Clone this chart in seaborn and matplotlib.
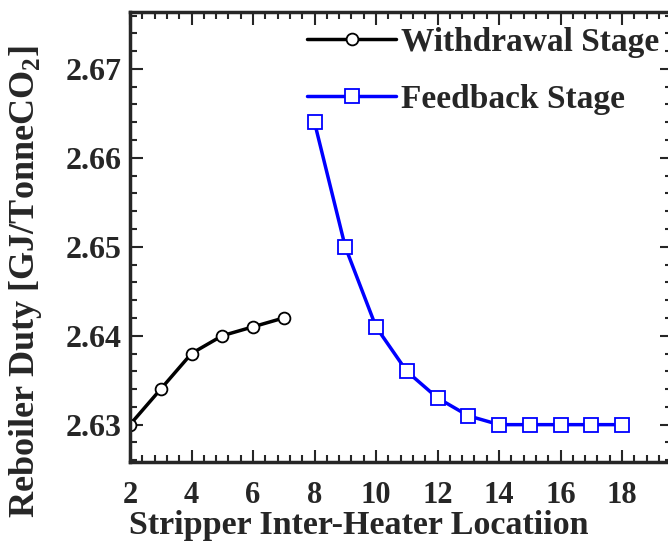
import matplotlib
matplotlib.use("Agg")
import matplotlib.pyplot as plt
import seaborn as sns
import pandas as pd
from matplotlib.ticker import MultipleLocator

withdrawal_x = [2, 3, 4, 5, 6, 7]
withdrawal_y = [2.630, 2.634, 2.638, 2.640, 2.641, 2.642]
feedback_x = [8, 9, 10, 11, 12, 13, 14, 15, 16, 17, 18]
feedback_y = [2.664, 2.650, 2.641, 2.636, 2.633, 2.631, 2.630, 2.630, 2.630, 2.630, 2.630]

sns.set_style("ticks")
plt.rcParams['font.family'] = ['Liberation Serif', 'DejaVu Serif']
plt.rcParams['font.weight'] = 'bold'
plt.rcParams['mathtext.fontset'] = 'custom'
plt.rcParams['mathtext.rm'] = 'Liberation Serif:bold'
plt.rcParams['mathtext.bf'] = 'Liberation Serif:bold'

df_w = pd.DataFrame({"x": withdrawal_x, "y": withdrawal_y})
df_f = pd.DataFrame({"x": feedback_x, "y": feedback_y})

fig = plt.figure(figsize=(6.68, 5.48), dpi=100)
ax = fig.add_axes([130/668, 1 - 462/548, 542/668, 450/548])

sns.lineplot(data=df_w, x="x", y="y", ax=ax, color="black", linewidth=2.5,
             marker="o", markersize=8.5, markerfacecolor="white",
             markeredgecolor="black", markeredgewidth=1.3, label="Withdrawal Stage")
sns.lineplot(data=df_f, x="x", y="y", ax=ax, color="#0000ff", linewidth=2.5,
             marker="s", markersize=10, markerfacecolor="white",
             markeredgecolor="#0000ff", markeredgewidth=1.3, label="Feedback Stage")

ax.set_xlim(2, 2 + 542/30.75)
ax.set_ylim(2.6258, 2.6764)
ax.xaxis.set_major_locator(MultipleLocator(2))
ax.xaxis.set_minor_locator(MultipleLocator(0.4))
ax.yaxis.set_major_locator(MultipleLocator(0.01))
ax.yaxis.set_minor_locator(MultipleLocator(0.002))
ax.tick_params(which="both", direction="in", top=True, right=True, width=1.5)
ax.tick_params(which="major", length=9)
ax.tick_params(axis="x", which="major", pad=14, labelsize=22)
ax.tick_params(axis="y", which="major", pad=6, labelsize=23)
ax.tick_params(which="minor", length=5)
for lab in ax.get_xticklabels() + ax.get_yticklabels():
    lab.set_fontweight("bold")
for s in ax.spines.values():
    s.set_linewidth(2.5)

ax.set_xlabel("Stripper Inter-Heater Locatiion", fontsize=24.5, fontweight="bold")
ax.set_ylabel(r"Reboiler Duty [GJ/TonneCO$_2$]", fontsize=26, fontweight="bold")
ax.xaxis.set_label_coords((359 - 130) / 542, (462 - 510) / 450)
ax.yaxis.set_label_coords((44 - 130) / 542, (462 - 282) / 450)

leg = ax.legend(loc="upper right", bbox_to_anchor=((659 - 130) / 542, (462 - 27) / 450),
                frameon=False, borderpad=0, borderaxespad=0,
                prop={"family": "Liberation Serif", "weight": "bold", "size": 24},
                handlelength=2.65, handletextpad=0.15, labelspacing=0.78)

fig.savefig("out.png", dpi=100)
